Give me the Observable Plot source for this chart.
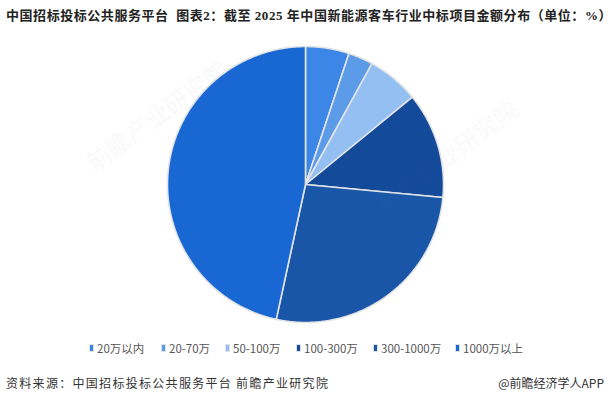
<!DOCTYPE html>
<html>
<head>
<meta charset="utf-8">
<script src="https://cdn.jsdelivr.net/npm/d3@7"></script>
<script src="https://cdn.jsdelivr.net/npm/@observablehq/plot@0.6"></script>
<style>
  html, body { margin: 0; padding: 0; background: #fff; }
  #wrap { position: relative; width: 611px; height: 394px; overflow: hidden; }
  #title { position: absolute; left: 6px; top: 5px; white-space: nowrap; letter-spacing: 0.55px;
    font-family: "Liberation Serif", "Noto Sans CJK SC", serif; font-weight: bold; font-size: 13px; color: #222; }
  #chart { position: absolute; left: 0; top: 30px; }
  #legend { position: absolute; left: 0; top: 340px; width: 611px; height: 16px; }
  .item { position: absolute; top: 0; display: flex; align-items: center; white-space: nowrap;
    font-family: "Noto Sans CJK SC", sans-serif; font-size: 11.5px; color: #555; }
  .mk { display: inline-block; width: 3px; height: 6px; border: 1.5px solid #dfe1e4; margin-right: 3px; }
  #src { position: absolute; left: 6px; top: 374px; white-space: nowrap; letter-spacing: 1.3px;
    font-family: "Noto Sans CJK SC", sans-serif; font-size: 12px; color: #333; }
  #app { position: absolute; right: 7px; top: 374px; white-space: nowrap;
    font-family: "Noto Sans CJK SC", sans-serif; font-size: 12px; color: #333; }
  .wm { position: absolute; white-space: nowrap; transform-origin: 0 0; transform: rotate(-36deg);
    font-family: "Noto Sans CJK SC", sans-serif; font-weight: bold; font-size: 24px; color: rgba(110,120,135,0.05); pointer-events: none; }
</style>
</head>
<body>
<div id="wrap">
  <div id="title">中国招标投标公共服务平台&nbsp; 图表2：截至 2025 年中国新能源客车行业中标项目金额分布（单位：%）</div>
  <div id="chart"></div>
  <div class="wm" style="left:78px; top:150px;">前瞻产业研究院</div>
  <div class="wm" style="left:368px; top:190px;">前瞻产业研究院</div>
  <div id="legend"></div>
  <div id="src">资料来源：中国招标投标公共服务平台 前瞻产业研究院</div>
  <div id="app">@前瞻经济学人APP</div>
</div>
<script>
const categories = ["20万以内", "20-70万", "50-100万", "100-300万", "300-1000万", "1000万以上"];
const shares = [5.1, 2.9, 6.1, 12.4, 26.9, 46.6];
const colors = ["#3b86e6", "#5b9be8", "#94bff3", "#134a9a", "#1a56a8", "#1967d2"];
const legendX = [89, 161, 225, 296, 373, 455];

// Build slice polygons (geometry) from shares via d3.pie
const pie = d3.pie().sort(null).value(d => d.v)(categories.map((c, i) => ({c, v: shares[i]})));
const pts = [];
pie.forEach(s => {
  const k = s.data.c;
  pts.push({k, x: 0, y: 0});
  const n = Math.max(2, Math.ceil((s.endAngle - s.startAngle) / (Math.PI / 360)));
  for (let j = 0; j <= n; j++) {
    const a = s.startAngle + (s.endAngle - s.startAngle) * j / n;
    pts.push({k, x: Math.sin(a), y: Math.cos(a)});
  }
  pts.push({k, x: 0, y: 0});
});

const W = 611, H = 300, cx = 305, cy = 154, R = 138;
const chart = Plot.plot({
  width: W, height: H,
  margin: 0,
  x: {domain: [-cx / R, (W - cx) / R], axis: null},
  y: {domain: [-(H - cy) / R, cy / R], axis: null},
  color: {domain: categories, range: colors},
  marks: [
    Plot.line(pts, {x: "x", y: "y", z: "k", fill: "k", stroke: "#e2e3e5", strokeWidth: 1.6, strokeLinejoin: "round", curve: "linear"})
  ]
});
document.getElementById("chart").appendChild(chart);

const lg = document.getElementById("legend");
categories.forEach((c, i) => {
  const it = document.createElement("div");
  it.className = "item";
  it.style.left = legendX[i] + "px";
  const mk = document.createElement("span");
  mk.className = "mk";
  mk.style.background = colors[i];
  it.appendChild(mk);
  it.appendChild(document.createTextNode(c));
  lg.appendChild(it);
});
</script>
</body>
</html>
